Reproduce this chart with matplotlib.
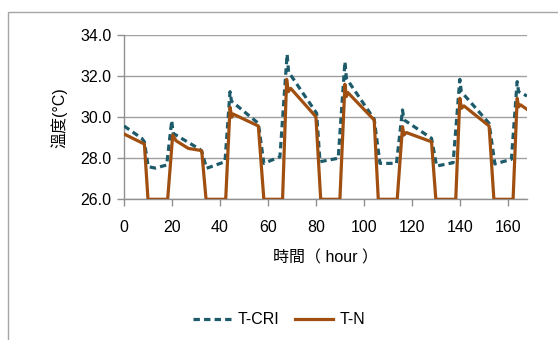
import matplotlib.pyplot as plt
from matplotlib.patches import Rectangle

plt.rcParams['font.family'] = ['Liberation Sans', 'Noto Sans CJK TC', 'DejaVu Sans']

# breakpoints (hour, temperature)
cri_hours = [0, 7.4, 8.5, 10.1, 13, 17.8, 19.9, 20.5, 31.7, 32.5, 34.4, 42.1,
             44.2, 44.8, 56, 58.3, 65, 68, 68.6, 80.3, 81.7, 89.3, 92.1, 92.7,
             104.3, 106.7, 113.6, 116.1, 116.7, 128.2, 130.3, 137.2, 140, 140.6,
             152.2, 154.6, 161.5, 163.9, 164.5, 168]
cri_temp = [29.57, 28.97, 28.8, 27.59, 27.52, 27.67, 29.83, 29.21, 28.43, 28.3, 27.51, 27.83,
            31.24, 30.78, 29.7, 27.75, 28.07, 33.06, 32.2, 30.19, 27.83, 28.0, 32.7, 31.89,
            29.9, 27.75, 27.75, 30.35, 29.87, 28.97, 27.62, 27.78, 31.84, 31.24,
            29.7, 27.72, 27.95, 31.73, 31.24, 31.03]

n_hours = [0, 8.5, 10, 18.2, 20.3, 21.7, 26.8, 32.4, 34.2, 42.4, 44.2, 44.9, 45.5,
           56, 58.3, 66.1, 67.8, 68.5, 69.5, 80, 82, 90, 92.1, 92.7, 93.3,
           104.3, 106, 113.9, 116.1, 116.7, 117.7, 128.2, 130, 138.3, 140, 140.7,
           141.7, 152.2, 154.2, 162.2, 163.9, 164.5, 165.3, 168]
n_temp = [29.18, 28.69, 26, 26, 29.13, 28.85, 28.48, 28.37, 26, 26, 30.48, 30.0, 30.15,
          29.57, 26, 26, 31.84, 31.24, 31.4, 30.02, 26, 26, 31.6, 31.0, 31.2,
          29.86, 26, 26, 29.54, 29.13, 29.25, 28.8, 26, 26, 30.92, 30.43,
          30.55, 29.57, 26, 26, 30.92, 30.5, 30.6, 30.38]

x_ticks = [0, 20, 40, 60, 80, 100, 120, 140, 160]
y_ticks = [26.0, 28.0, 30.0, 32.0, 34.0]

fig = plt.figure(figsize=(5.58, 3.4), dpi=100)
ax = fig.add_axes([124 / 558, 1 - 199.3 / 340, (527 - 124) / 558, (199.3 - 35) / 340])

# outer chart border
fig.patches.append(Rectangle((8 / 558, -0.1), 1.2, 1 - 12 / 340 + 0.1, transform=fig.transFigure,
                             fill=False, edgecolor='#a6a6a6', linewidth=1.0))

ax.plot(cri_hours, cri_temp, color='#1d5b6b', linewidth=2.3, linestyle=(0, (2.0, 1.3)),
        label='T-CRI', zorder=3)
ax.plot(n_hours, n_temp, color='#a04f10', linewidth=2.3, label='T-N', zorder=4)

ax.set_xlim(0, 168)
ax.set_ylim(26, 34)
ax.set_xticks(x_ticks)
ax.set_yticks(y_ticks)
ax.set_yticklabels([f'{v:.1f}' for v in y_ticks])
ax.grid(axis='y', color='#a0a0a0', linewidth=1.0)
ax.set_axisbelow(True)

for side in ['top', 'right']:
    ax.spines[side].set_visible(False)
for side in ['left', 'bottom']:
    ax.spines[side].set_color('#909090')
    ax.spines[side].set_linewidth(1.0)
ax.tick_params(axis='both', colors='#909090', labelcolor='black', labelsize=11.5,
               length=5, width=1.0, direction='out')
ax.tick_params(axis='x', pad=10)
ax.tick_params(axis='y', pad=4)

ax.set_xlabel('時間（ hour ）', fontsize=11.5, labelpad=11)
ax.set_ylabel('溫度(°C)', fontsize=11.5, labelpad=9)

fig.legend(loc='center', bbox_to_anchor=(0.5, 1 - 320 / 340), ncol=2, frameon=False,
           fontsize=11.5, handlelength=2.4, columnspacing=1.0, handletextpad=0.4)

fig.savefig('out.png', dpi=100)
